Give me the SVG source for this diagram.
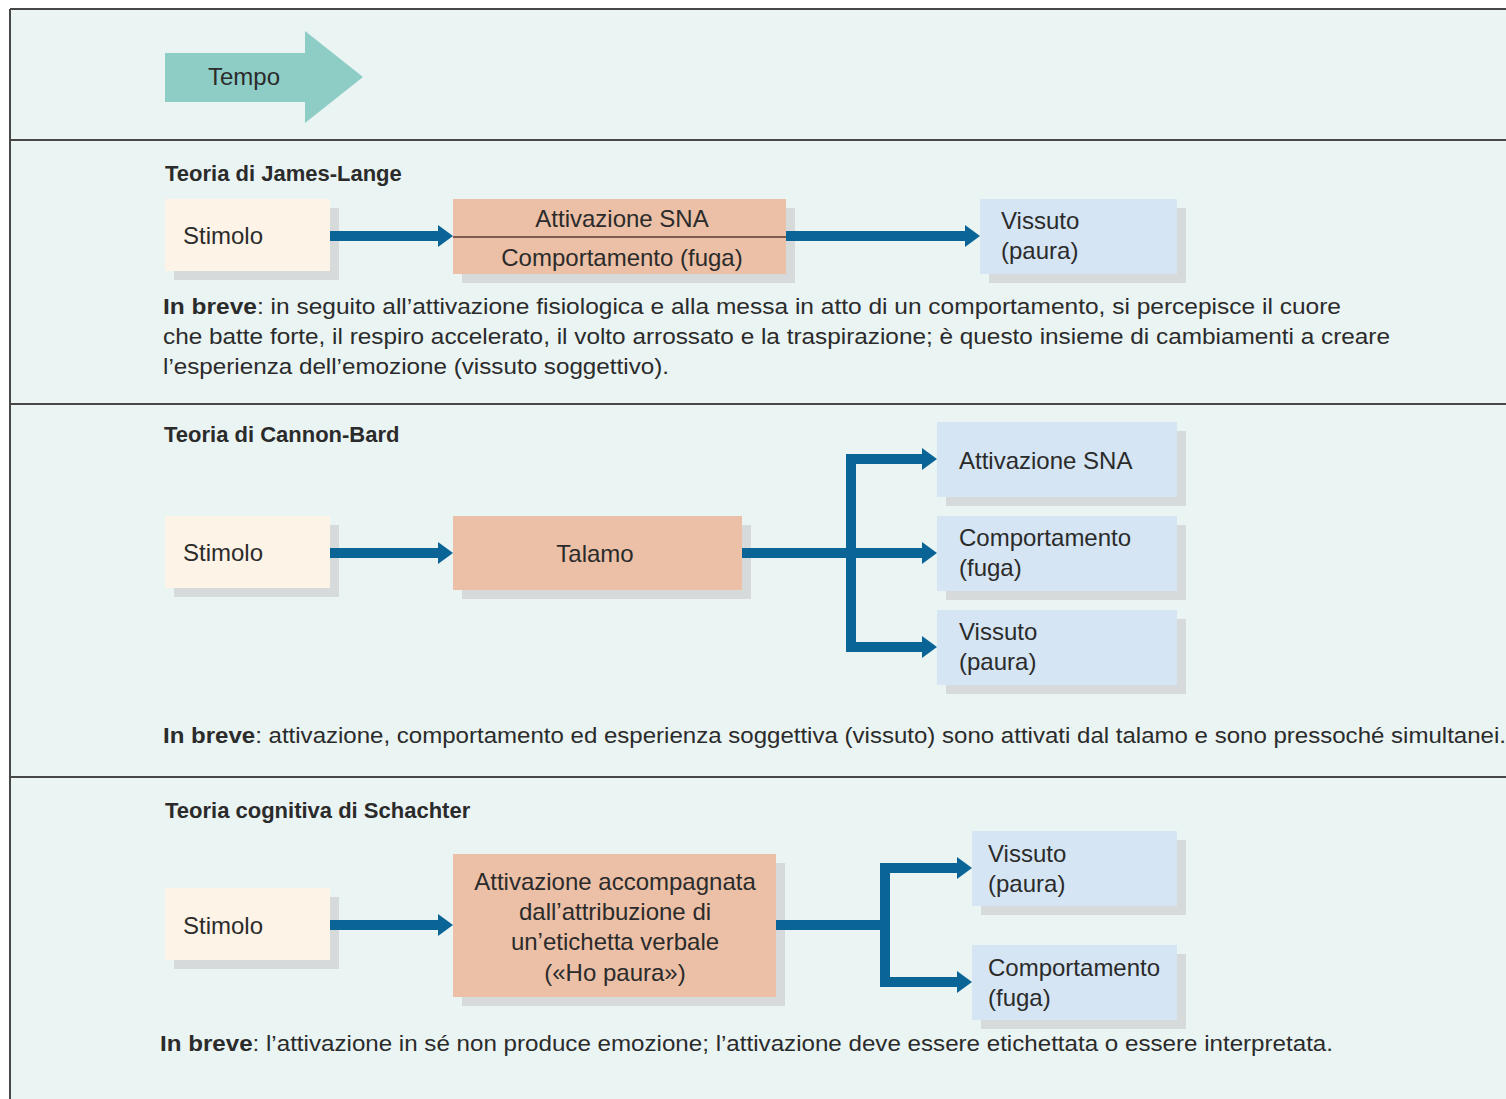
<svg xmlns="http://www.w3.org/2000/svg" width="1506" height="1099" viewBox="0 0 1506 1099">
<defs>
<style>
text{font-family:"Liberation Sans","Noto Sans",Arial,sans-serif;fill:#2b2b2b;font-size:22px}
.n{font-size:24px}
.t{font-weight:bold}
.sh{fill:#d6dadb}
.st{fill:#fdf3e6}
.or{fill:#ebc0a6}
.bl{fill:#d5e5f3}
.c{text-anchor:middle}
.ln{stroke:#0b6496;stroke-width:10;fill:none}
.fr{stroke:#474747;stroke-width:2;fill:none}
</style>
<marker id="ah" markerUnits="userSpaceOnUse" markerWidth="16" markerHeight="24" refX="0" refY="12" orient="auto" viewBox="0 0 16 24">
<path d="M0,1 L15,12 L0,23 z" fill="#0b6496"/>
</marker>
</defs>
<rect width="1506" height="1099" fill="#fff"/>
<rect x="10" y="9" width="1496" height="1090" fill="#eaf4f3"/>
<g id="frame">
<path class="fr" d="M10,9 V1099 M10,9 H1506 M10,140 H1506 M10,404 H1506 M10,777 H1506"/>
</g>
<g id="tempo">
<polygon points="165,53 305,53 305,31 363,77 305,123 305,102 165,102" fill="#8ecdc6"/>
<text class="n" x="208" y="85">Tempo</text>
</g>
<text class="t" x="165" y="181">Teoria di James-Lange</text>
<text class="t" x="164" y="442">Teoria di Cannon-Bard</text>
<text class="t" x="165" y="818">Teoria cognitiva di Schachter</text>

<g id="jl-stimolo">
<rect class="sh" x="174" y="208" width="165" height="72"/>
<rect class="st" x="165" y="199" width="165" height="72"/>
<text class="n" x="183" y="244">Stimolo</text>
</g>
<g id="jl-attivazione">
<rect class="sh" x="462" y="208" width="333" height="75"/>
<rect class="or" x="453" y="199" width="333" height="75"/>
<line x1="453" y1="237" x2="786" y2="237" stroke="#5a3a30" stroke-width="1.5"/>
<text class="n c" x="622" y="227">Attivazione SNA</text>
<text class="n c" x="622" y="266">Comportamento (fuga)</text>
</g>
<g id="jl-vissuto">
<rect class="sh" x="989" y="208" width="197" height="75"/>
<rect class="bl" x="980" y="199" width="197" height="75"/>
<text class="n" x="1001" y="229">Vissuto</text>
<text class="n" x="1001" y="259">(paura)</text>
</g>
<text x="163" y="314" textLength="1178" lengthAdjust="spacingAndGlyphs"><tspan class="t">In breve</tspan>: in seguito all’attivazione fisiologica e alla messa in atto di un comportamento, si percepisce il cuore</text>
<text x="163" y="344" textLength="1227" lengthAdjust="spacingAndGlyphs">che batte forte, il respiro accelerato, il volto arrossato e la traspirazione; è questo insieme di cambiamenti a creare</text>
<text x="163" y="374" textLength="506" lengthAdjust="spacingAndGlyphs">l’esperienza dell’emozione (vissuto soggettivo).</text>

<g id="cb-stimolo">
<rect class="sh" x="174" y="525" width="165" height="72"/>
<rect class="st" x="165" y="516" width="165" height="72"/>
<text class="n" x="183" y="561">Stimolo</text>
</g>
<g id="cb-talamo">
<rect class="sh" x="462" y="525" width="289" height="74"/>
<rect class="or" x="453" y="516" width="289" height="74"/>
<text class="n c" x="595" y="562">Talamo</text>
</g>
<g id="cb-sna">
<rect class="sh" x="946" y="431" width="240" height="75"/>
<rect class="bl" x="937" y="422" width="240" height="75"/>
<text class="n" x="959" y="469">Attivazione SNA</text>
</g>
<g id="cb-comp">
<rect class="sh" x="946" y="525" width="240" height="75"/>
<rect class="bl" x="937" y="516" width="240" height="75"/>
<text class="n" x="959" y="546">Comportamento</text>
<text class="n" x="959" y="576">(fuga)</text>
</g>
<g id="cb-vissuto">
<rect class="sh" x="946" y="619" width="240" height="75"/>
<rect class="bl" x="937" y="610" width="240" height="75"/>
<text class="n" x="959" y="640">Vissuto</text>
<text class="n" x="959" y="670">(paura)</text>
</g>
<text x="163" y="743" textLength="1343" lengthAdjust="spacingAndGlyphs"><tspan class="t">In breve</tspan>: attivazione, comportamento ed esperienza soggettiva (vissuto) sono attivati dal talamo e sono pressoché simultanei.</text>

<g id="sc-stimolo">
<rect class="sh" x="174" y="897" width="165" height="72"/>
<rect class="st" x="165" y="888" width="165" height="72"/>
<text class="n" x="183" y="934">Stimolo</text>
</g>
<g id="sc-attivazione">
<rect class="sh" x="462" y="863" width="323" height="143"/>
<rect class="or" x="453" y="854" width="323" height="143"/>
<text class="n c" x="615" y="890">Attivazione accompagnata</text>
<text class="n c" x="615" y="920">dall’attribuzione di</text>
<text class="n c" x="615" y="950">un’etichetta verbale</text>
<text class="n c" x="615" y="981">(«Ho paura»)</text>
</g>
<g id="sc-vissuto">
<rect class="sh" x="981" y="840" width="205" height="75"/>
<rect class="bl" x="972" y="831" width="205" height="75"/>
<text class="n" x="988" y="862">Vissuto</text>
<text class="n" x="988" y="892">(paura)</text>
</g>
<g id="sc-comp">
<rect class="sh" x="981" y="954" width="205" height="75"/>
<rect class="bl" x="972" y="945" width="205" height="75"/>
<text class="n" x="988" y="976">Comportamento</text>
<text class="n" x="988" y="1006">(fuga)</text>
</g>
<text x="160" y="1051" textLength="1173" lengthAdjust="spacingAndGlyphs"><tspan class="t">In breve</tspan>: l’attivazione in sé non produce emozione; l’attivazione deve essere etichettata o essere interpretata.</text>

<g id="connectors">
<path class="ln" d="M330,236 H438" marker-end="url(#ah)"/>
<path class="ln" d="M786,236 H965" marker-end="url(#ah)"/>
<path class="ln" d="M330,553 H438" marker-end="url(#ah)"/>
<path class="ln" d="M742,553 H922" marker-end="url(#ah)"/>
<path class="ln" d="M922,459 H851 V647 H922" stroke-linejoin="miter"/>
<path class="ln" d="M900,459 H922" marker-end="url(#ah)"/>
<path class="ln" d="M900,647 H922" marker-end="url(#ah)"/>
<path class="ln" d="M330,925 H438" marker-end="url(#ah)"/>
<path class="ln" d="M776,925 H885"/>
<path class="ln" d="M957,868 H885 V982 H957" stroke-linejoin="miter"/>
<path class="ln" d="M935,868 H957" marker-end="url(#ah)"/>
<path class="ln" d="M935,982 H957" marker-end="url(#ah)"/>
</g>
</svg>
